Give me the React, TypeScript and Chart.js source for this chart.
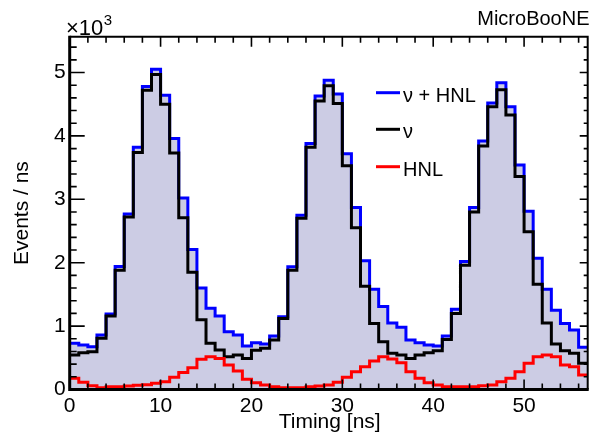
import { useEffect, useRef } from "react";
import { Chart, registerables } from "chart.js";

Chart.register(...registerables);

// Bin edges (ns); values are events / ns in units of 10^3
const binEdges = [
  0, 1, 2, 3, 4, 5, 6, 7, 8, 9, 10, 11, 12, 13, 14, 15, 16, 17, 18, 19, 20,
  21, 22, 23, 24, 25, 26, 27, 28, 29, 30, 31, 32, 33, 34, 35, 36, 37, 38, 39,
  40, 41, 42, 43, 44, 45, 46, 47, 48, 49, 50, 51, 52, 53, 54, 55, 56, 57,
];

const nuPlusHnl = [
  0.728, 0.702, 0.676, 0.86, 1.19, 1.94, 2.77, 3.82, 4.78, 5.05,
  4.64, 3.96, 3.02, 2.21, 1.6, 1.28, 1.16, 0.91, 0.86, 0.686,
  0.739, 0.718, 0.844, 1.149, 1.937, 2.75, 3.88, 4.63, 4.88, 4.66,
  3.72, 2.87, 2.03, 1.58, 1.31, 1.05, 0.98, 0.78, 0.739, 0.7,
  0.686, 0.844, 1.264, 2.02, 2.87, 3.92, 4.52, 4.84, 4.46, 3.54,
  2.81, 2.07, 1.58, 1.25, 1.04, 0.94, 0.665,
];

const nuOnly = [
  0.544, 0.58, 0.597, 0.807, 1.16, 1.88, 2.72, 3.74, 4.72, 4.97,
  4.5, 3.73, 2.71, 1.85, 1.1, 0.728, 0.623, 0.518, 0.544, 0.49,
  0.62, 0.65, 0.78, 1.12, 1.88, 2.7, 3.82, 4.55, 4.79, 4.51,
  3.53, 2.55, 1.63, 1.04, 0.754, 0.57, 0.544, 0.49, 0.544, 0.58,
  0.61, 0.79, 1.2, 1.96, 2.8, 3.84, 4.46, 4.73, 4.33, 3.36,
  2.49, 1.66, 1.05, 0.718, 0.613, 0.57, 0.413,
];

const hnlOnly = [
  0.176, 0.113, 0.06, 0.029, 0.045, 0.045, 0.055, 0.066, 0.076, 0.097,
  0.124, 0.192, 0.27, 0.344, 0.476, 0.518, 0.49, 0.386, 0.29, 0.16,
  0.108, 0.071, 0.045, 0.029, 0.029, 0.029, 0.045, 0.055, 0.071, 0.113,
  0.192, 0.281, 0.36, 0.45, 0.518, 0.48, 0.423, 0.281, 0.176, 0.108,
  0.071, 0.045, 0.045, 0.045, 0.045, 0.06, 0.071, 0.124, 0.176, 0.281,
  0.413, 0.518, 0.544, 0.518, 0.386, 0.36, 0.229,
];

const xTickValues = [0, 10, 20, 30, 40, 50];
const yTickValues = [0, 1, 2, 3, 4, 5];
const xMinorTicks = [
  0, 2, 4, 6, 8, 10, 12, 14, 16, 18, 20, 22, 24, 26, 28, 30, 32, 34, 36, 38,
  40, 42, 44, 46, 48, 50, 52, 54, 56,
];
const yMinorTicks = [
  0, 0.2, 0.4, 0.6, 0.8, 1, 1.2, 1.4, 1.6, 1.8, 2, 2.2, 2.4, 2.6, 2.8, 3, 3.2,
  3.4, 3.6, 3.8, 4, 4.2, 4.4, 4.6, 4.8, 5, 5.2, 5.4,
];
const legendLabels = ["ν + HNL", "ν", "HNL"];
const legendColors = ["#0000ff", "#000000", "#ff0000"];
const xTitle = "Timing [ns]";
const yTitle = "Events / ns";
const expLabel = "MicroBooNE";

const FONT = "'Liberation Sans', Arial, Helvetica, sans-serif";

function toSteps(vals: number[]) {
  return binEdges.map((x, i) => ({ x, y: vals[Math.min(i, vals.length - 1)] }));
}

const rootStyle = {
  id: "rootStyle",
  afterDatasetsDraw(chart: any) {
    const { ctx, chartArea: a, scales } = chart;
    const xs = scales.x;
    const ys = scales.y;
    ctx.save();
    ctx.strokeStyle = "#000";
    ctx.lineWidth = 1.6;
    ctx.beginPath();
    for (const v of xMinorTicks) {
      const px = xs.getPixelForValue(v);
      const major = v % 10 === 0;
      const len = major ? 10 : 6;
      ctx.moveTo(px, a.bottom);
      ctx.lineTo(px, a.bottom - len);
      ctx.moveTo(px, a.top);
      ctx.lineTo(px, a.top + len);
    }
    for (const v of yMinorTicks) {
      const py = ys.getPixelForValue(v);
      const major = Math.abs(v - Math.round(v)) < 1e-6;
      ctx.moveTo(a.left, py);
      ctx.lineTo(a.left + (major ? 15 : 7), py);
      ctx.moveTo(a.right, py);
      ctx.lineTo(a.right - (major ? 8 : 4), py);
    }
    ctx.stroke();

    // frame
    ctx.lineWidth = 2;
    ctx.beginPath();
    ctx.moveTo(a.left, a.top);
    ctx.lineTo(a.right, a.top);
    ctx.lineTo(a.right, a.bottom);
    ctx.stroke();
    ctx.lineWidth = 3;
    ctx.beginPath();
    ctx.moveTo(a.left, a.top - 1);
    ctx.lineTo(a.left, a.bottom);
    ctx.lineTo(a.right + 1, a.bottom);
    ctx.stroke();
    ctx.restore();
  },
  afterDraw(chart: any) {
    const { ctx, chartArea: a } = chart;
    ctx.save();
    ctx.fillStyle = "#000";
    // legend
    const ly = [92.7, 129.3, 166.7];
    for (let i = 0; i < legendLabels.length; i++) {
      ctx.strokeStyle = legendColors[i];
      ctx.lineWidth = 3;
      ctx.beginPath();
      ctx.moveTo(376, ly[i]);
      ctx.lineTo(400, ly[i]);
      ctx.stroke();
      ctx.font = `20px ${FONT}`;
      ctx.textAlign = "left";
      ctx.textBaseline = "alphabetic";
      ctx.fillText(legendLabels[i], 403, ly[i] + 9);
    }
    // MicroBooNE
    ctx.font = `20px ${FONT}`;
    ctx.textAlign = "right";
    ctx.fillText(expLabel, 589.5, 25);
    // x10^3
    ctx.textAlign = "left";
    ctx.font = `22px ${FONT}`;
    ctx.fillText("×10", 66, 35);
    const w = ctx.measureText("×10").width;
    ctx.font = `15px ${FONT}`;
    ctx.fillText("3", 66 + w + 0.5, 25);
    // axis titles
    ctx.font = `21px ${FONT}`;
    ctx.textAlign = "center";
    ctx.fillText(xTitle, (a.left + a.right) / 2 + 1, 428);
    ctx.translate(28, (a.top + a.bottom) / 2);
    ctx.rotate(-Math.PI / 2);
    ctx.fillText(yTitle, 0, 0);
    ctx.restore();
  },
};

export default function App() {
  const ref = useRef<HTMLCanvasElement | null>(null);
  useEffect(() => {
    document.body.style.margin = "0";
    const canvas = ref.current;
    if (!canvas) return;
    const chart = new Chart(canvas, {
      type: "line",
      data: {
        datasets: [
          {
            label: legendLabels[0],
            data: toSteps(nuPlusHnl),
            stepped: true,
            borderColor: legendColors[0],
            borderWidth: 3,
            backgroundColor: "rgb(204,204,228)",
            fill: "origin",
            pointRadius: 0,
            order: 3,
          },
          {
            label: legendLabels[1],
            data: toSteps(nuOnly),
            stepped: true,
            borderColor: legendColors[1],
            borderWidth: 3,
            fill: false,
            pointRadius: 0,
            order: 2,
          },
          {
            label: legendLabels[2],
            data: toSteps(hnlOnly),
            stepped: true,
            borderColor: legendColors[2],
            borderWidth: 3,
            fill: false,
            pointRadius: 0,
            order: 1,
          },
        ],
      },
      options: {
        responsive: false,
        animation: false,
        events: [],
        layout: { padding: { top: 36.7, right: 6.3, left: 0, bottom: 0 } },
        plugins: { legend: { display: false }, tooltip: { enabled: false } },
        scales: {
          x: {
            type: "linear",
            min: 0,
            max: 57,
            grid: { display: false, drawTicks: false },
            border: { display: false },
            afterFit: (s: any) => {
              s.height = 44.5;
            },
            afterBuildTicks: (s: any) => {
              s.ticks = xTickValues.map((v) => ({ value: v }));
            },
            ticks: {
              color: "#000",
              font: { family: FONT, size: 21 },
              padding: 4,
              maxRotation: 0,
              autoSkip: false,
              callback: (v: any) => String(v),
            },
          },
          y: {
            type: "linear",
            min: 0,
            max: 5.565,
            grid: { display: false, drawTicks: false },
            border: { display: false },
            afterFit: (s: any) => {
              s.width = 69.7;
            },
            afterBuildTicks: (s: any) => {
              s.ticks = yTickValues.map((v) => ({ value: v }));
            },
            ticks: {
              color: "#000",
              font: { family: FONT, size: 21 },
              padding: 4,
              autoSkip: false,
              callback: (v: any) => String(v),
            },
          },
        },
      },
      plugins: [rootStyle],
    });
    return () => chart.destroy();
  }, []);
  return (
    <div style={{ width: 594, height: 434, background: "#fff" }}>
      <canvas ref={ref} width={594} height={434} />
    </div>
  );
}
